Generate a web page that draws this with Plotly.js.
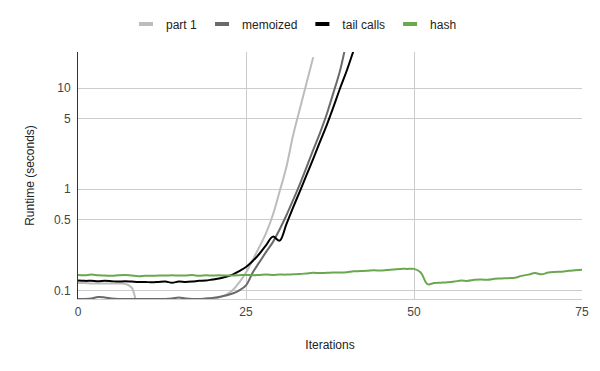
<!DOCTYPE html>
<html>
<head>
<meta charset="utf-8">
<script src="https://cdn.plot.ly/plotly-3.0.1.min.js"></script>
<style>html,body{margin:0;padding:0;background:#fff;}#chart{width:600px;height:371px;}</style>
</head>
<body>
<div id="chart"></div>
<script>
const iterations = Array.from({length: 76}, (_, i) => i);

const part1 = [0.118,0.118,0.117,0.117,0.117,0.117,0.117,0.116,0.106,0.07,
  0.07,0.07,0.07,0.07,0.07,0.07,0.07,0.07,0.07,0.075,
  0.08,0.085,0.09,0.1,0.12,0.15,0.2,0.27,0.37,0.56,
  0.95,1.65,3.4,6.2,11.2,20.3];

const memoized = [0.082,0.082,0.083,0.086,0.085,0.083,0.082,0.082,0.082,0.082,
  0.082,0.082,0.082,0.082,0.083,0.085,0.083,0.082,0.082,0.083,
  0.084,0.086,0.089,0.093,0.1,0.112,0.15,0.19,0.24,0.3,
  0.4,0.55,0.78,1.12,1.65,2.45,3.6,5.5,9.0,15,30];

const tailCalls = [0.125,0.124,0.124,0.123,0.124,0.123,0.122,0.123,0.122,0.121,
  0.121,0.12,0.121,0.122,0.119,0.122,0.121,0.122,0.124,0.125,
  0.128,0.131,0.136,0.143,0.155,0.17,0.195,0.23,0.28,0.34,
  0.31,0.45,0.66,0.95,1.38,2.0,2.95,4.3,6.5,10,15,23.5,36];

const hash = [0.142,0.141,0.143,0.141,0.140,0.139,0.141,0.142,0.140,0.138,
  0.139,0.139,0.140,0.140,0.141,0.140,0.140,0.142,0.139,0.141,
  0.140,0.141,0.140,0.140,0.141,0.142,0.141,0.142,0.143,0.142,
  0.143,0.143,0.144,0.145,0.147,0.149,0.148,0.149,0.150,0.150,
  0.151,0.154,0.155,0.156,0.158,0.157,0.159,0.161,0.163,0.163,
  0.163,0.150,0.115,0.118,0.119,0.120,0.122,0.125,0.124,0.127,
  0.128,0.127,0.130,0.131,0.132,0.133,0.139,0.143,0.148,0.144,
  0.150,0.152,0.153,0.156,0.158,0.160];

const seriesNames = ['part 1', 'memoized', 'tail calls', 'hash'];
const seriesData = [part1, memoized, tailCalls, hash];
const seriesColors = ['#bcbcbc', '#6a6a6a', '#000000', '#6aa84f'];

const xTicks = [0, 25, 50, 75];
const yTicks = [0.1, 0.5, 1, 5, 10];
const yTickText = ['0.1', '0.5', '1', '5', '10'];

const traces = [];
seriesData.forEach((vals, k) => {
  traces.push({
    x: iterations.slice(0, vals.length), y: vals, type: 'scatter', mode: 'lines',
    name: seriesNames[k], showlegend: false, hoverinfo: 'skip',
    line: {color: seriesColors[k], width: 2, shape: 'spline', smoothing: 1}
  });
});
seriesNames.forEach((n, k) => {
  traces.push({
    x: [null], y: [null], type: 'scatter', mode: 'markers', name: n, showlegend: true,
    marker: {symbol: 'line-ew', size: 10, color: seriesColors[k], line: {color: seriesColors[k], width: 4}}
  });
});

const layout = {
  width: 600, height: 371,
  margin: {l: 78, r: 18, t: 52, b: 72},
  paper_bgcolor: '#ffffff', plot_bgcolor: '#ffffff',
  font: {family: 'Liberation Sans, Arial, sans-serif', size: 12, color: '#222'},
  showlegend: true,
  legend: {orientation: 'h', xref: 'container', yref: 'container', x: 0.49, xanchor: 'center',
           y: 0.935, yanchor: 'middle', font: {size: 12, color: '#222'}, itemwidth: 30, bgcolor: 'rgba(0,0,0,0)'},
  xaxis: {
    range: [0, 75], tickvals: xTicks, ticktext: xTicks.map(String),
    showgrid: true, gridcolor: '#cccccc', gridwidth: 1, zeroline: false,
    showline: true, linecolor: '#cccccc', linewidth: 1, ticks: '',
    tickfont: {size: 12, color: '#444'}, ticklabelstandoff: 2,
    title: {text: 'Iterations', font: {size: 12, color: '#222'}, standoff: 22}
  },
  yaxis: {
    type: 'log', range: [-1.086, 1.359], tickvals: yTicks, ticktext: yTickText,
    showgrid: true, gridcolor: '#cccccc', gridwidth: 1, zeroline: false,
    showline: true, linecolor: '#333333', linewidth: 1, ticks: '',
    tickfont: {size: 12, color: '#444'}, ticklabelstandoff: 4,
    title: {text: 'Runtime (seconds)', font: {size: 12, color: '#222'}, standoff: 16}
  }
};

Plotly.newPlot('chart', traces, layout, {displayModeBar: false, staticPlot: true});
</script>
</body>
</html>
